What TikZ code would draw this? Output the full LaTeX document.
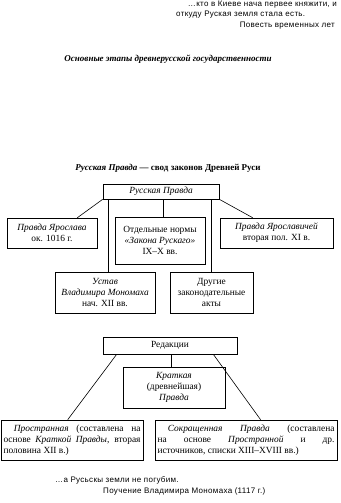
\documentclass[tikz,border=0pt]{standalone}
\usepackage{fontspec}
\setmainfont{Liberation Serif}
\setsansfont{Liberation Sans}
\usetikzlibrary{calc,shadows}
\begin{document}
\begin{tikzpicture}[x=1pt,y=-1pt,
  box/.style={draw, line width=0.6pt, fill=white, align=center, inner sep=1pt,
     drop shadow={shadow xshift=0.9pt, shadow yshift=-0.9pt, fill=black, opacity=1},
     font=\fontsize{9.4}{10.8}\selectfont},
  epi/.style={font=\sffamily\fontsize{8}{9}\selectfont\addfontfeature{LetterSpace=4}, inner sep=0pt},
  conn/.style={line width=0.6pt}]
\useasboundingbox (0,0) rectangle (340,503);

% epigraph top
\node[epi, anchor=east] (e1) at (337,5) {…кто в Киеве нача первее княжити, и};
\node[epi, anchor=west] (e2) at (176,15) {откуду Руская земля стала есть.};
\node[epi, anchor=east] (e3) at (335,26) {Повесть временных лет};

% titles
\node[font=\bfseries\itshape\fontsize{9}{10}\selectfont, inner sep=0pt] (t1) at (168,59) {Основные этапы древнерусской государственности};
\node[font=\bfseries\fontsize{9}{10}\selectfont, inner sep=0pt] (t2) at (168,168) {\textit{Русская Правда} — свод законов Древней Руси};

% boxes
\node[box, minimum width=116, minimum height=15] (rp) at (161,191.5) {\textit{Русская Правда}};
\node[box, minimum width=90, minimum height=30] (py) at (52,233) {\textit{Правда Ярослава}\\ок. 1016 г.};
\node[box, minimum width=90, minimum height=47] (nr) at (160,240.5) {Отдельные нормы\\\textit{«Закона Рускаго»}\\IX–X вв.};
\node[box, minimum width=113, minimum height=30] (pyv) at (276.5,233) {\textit{Правда Ярославичей}\\вторая пол. XI в.};
\node[box, minimum width=100, minimum height=41] (us) at (105,292.5) {\textit{Устав}\\\textit{Владимира Мономаха}\\нач. XII вв.};
\node[box, minimum width=83, minimum height=41] (dr) at (211.5,292.5) {Другие\\законодательные\\акты};

\node[box, minimum width=134, minimum height=17] (red) at (170,345.5) {Редакции};
\node[box, minimum width=102, minimum height=41] (kr) at (174,387.5) {\textit{Краткая}\\(древнейшая)\\\textit{Правда}};
\node[box, minimum width=142, minimum height=40, align=left] (pr) at (72,440)
 {\makebox[137pt][s]{\hspace*{1.1em}\textit{Пространная} (составлена на}\\
  \makebox[137pt][s]{основе \textit{Краткой Правды}, вторая}\\
  половина XII в.)};
\node[box, minimum width=182, minimum height=40, align=left] (so) at (246,440)
 {\makebox[177pt][s]{\hspace*{1.1em}\textit{Сокращенная Правда} (составлена}\\
  \makebox[177pt][s]{на основе \textit{Пространной} и др.}\\
  источников, списки XIII–XVIII вв.)};

% connectors
\draw[conn] (rp.south west) -- ($(py.north west)!0.78!(py.north east)$);
\draw[conn] (rp.south east) -- ($(pyv.north west)!0.29!(pyv.north east)$);
\draw[conn] ([xshift=6pt]rp.south west) coordinate (a1) -- (a1 |- us.north);
\draw[conn] ([xshift=2pt]rp.south) coordinate (a2) -- (a2 |- nr.north);
\draw[conn] ([xshift=-8pt]rp.south east) coordinate (a3) -- (a3 |- dr.north);
\draw[conn] ([xshift=1pt]red.south) coordinate (a4) -- (a4 |- kr.north);
\draw[conn] ([xshift=14pt]red.south west) -- ($(pr.north west)!0.47!(pr.north east)$);
\draw[conn] ([xshift=-24pt]red.south east) -- ($(so.north west)!0.58!(so.north east)$);

% epigraph bottom
\node[epi, anchor=west] (b1) at (55,480) {…а Русьскы земли не погубим.};
\node[epi, anchor=west] (b2) at (103,491) {Поучение Владимира Мономаха (1117 г.)};
\end{tikzpicture}
\end{document}
